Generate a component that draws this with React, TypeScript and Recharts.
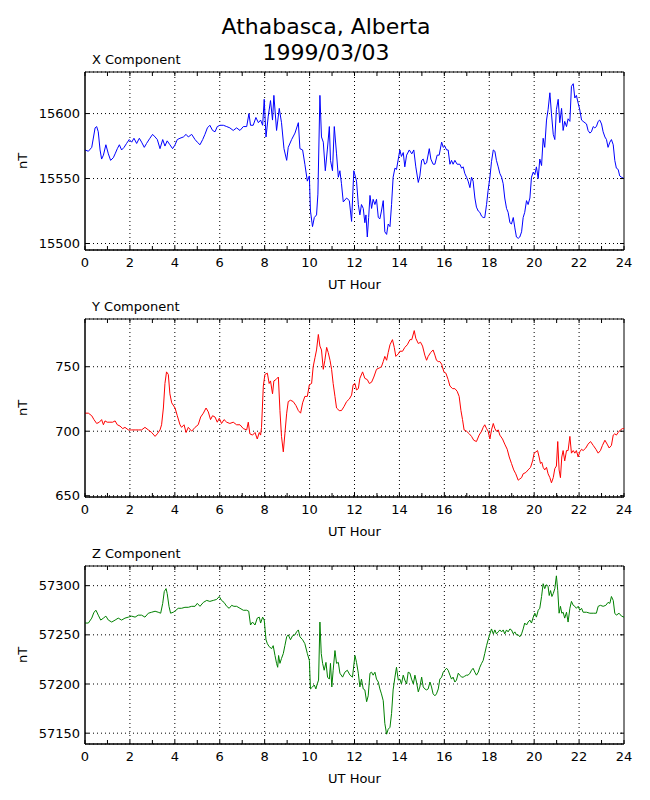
import React from "react";
import {
  LineChart,
  Line,
  XAxis,
  YAxis,
  CartesianGrid,
  ReferenceLine,
  ReferenceArea,
} from "recharts";

// [UT hour, nT]
const xComponent: [number, number][] = [
  [0, 15572], [0.15, 15571], [0.3, 15574], [0.45, 15589], [0.52, 15590], [0.59, 15586], [0.67, 15572], [0.74, 15565], [0.82, 15568], [0.93, 15576],
  [1.04, 15569], [1.14, 15564], [1.26, 15566], [1.34, 15569], [1.44, 15573], [1.53, 15576], [1.63, 15572], [1.74, 15574], [1.85, 15577], [1.97, 15580],
  [2.08, 15578], [2.18, 15581], [2.3, 15577], [2.42, 15581], [2.52, 15578], [2.64, 15574], [2.74, 15577], [2.89, 15581], [3.01, 15584], [3.12, 15582],
  [3.22, 15580], [3.34, 15573], [3.46, 15580], [3.56, 15575], [3.66, 15579], [3.78, 15576], [3.9, 15573], [4.01, 15576], [4.11, 15580], [4.23, 15581],
  [4.38, 15582], [4.5, 15584], [4.6, 15582], [4.75, 15584], [4.9, 15580], [5.0, 15578], [5.12, 15576], [5.24, 15580], [5.34, 15584], [5.45, 15589],
  [5.56, 15591], [5.68, 15587], [5.79, 15586], [5.89, 15590], [6.01, 15591], [6.16, 15591], [6.31, 15590], [6.45, 15589], [6.6, 15587], [6.75, 15589],
  [6.9, 15587], [7.05, 15590], [7.2, 15590], [7.3, 15600], [7.37, 15591], [7.49, 15591], [7.61, 15597], [7.72, 15593], [7.82, 15595], [7.91, 15591],
  [7.98, 15611], [8.06, 15582], [8.16, 15598], [8.26, 15610], [8.35, 15595], [8.41, 15614], [8.53, 15587], [8.65, 15604], [8.75, 15593], [8.86, 15573],
  [8.98, 15564], [9.05, 15574], [9.2, 15580], [9.35, 15585], [9.5, 15593], [9.57, 15573], [9.69, 15572], [9.79, 15561], [9.9, 15548], [9.99, 15552],
  [10.04, 15525], [10.13, 15513], [10.21, 15520], [10.31, 15522], [10.37, 15538], [10.46, 15614], [10.53, 15582], [10.61, 15578], [10.7, 15556], [10.79, 15572],
  [10.88, 15590], [10.93, 15564], [11.02, 15556], [11.1, 15590], [11.2, 15569], [11.28, 15551], [11.35, 15556], [11.42, 15546], [11.5, 15532], [11.65, 15535],
  [11.77, 15533], [11.87, 15517], [11.97, 15556], [12.09, 15548], [12.17, 15530], [12.24, 15522], [12.31, 15530], [12.39, 15527], [12.46, 15516], [12.51, 15522],
  [12.57, 15505], [12.63, 15520], [12.69, 15537], [12.76, 15527], [12.83, 15534], [12.91, 15530], [12.98, 15534], [13.06, 15520], [13.13, 15519], [13.2, 15525],
  [13.28, 15533], [13.35, 15509], [13.43, 15507], [13.5, 15515], [13.58, 15513], [13.65, 15530], [13.72, 15551], [13.8, 15558], [13.87, 15557], [13.95, 15565],
  [14.02, 15572], [14.09, 15567], [14.17, 15570], [14.24, 15559], [14.32, 15568], [14.44, 15572], [14.55, 15569], [14.64, 15572], [14.73, 15559], [14.84, 15547],
  [14.91, 15552], [14.99, 15564], [15.06, 15565], [15.13, 15561], [15.21, 15562], [15.33, 15573], [15.4, 15565], [15.5, 15561], [15.58, 15561], [15.68, 15568],
  [15.77, 15568], [15.88, 15578], [15.95, 15574], [16.02, 15575], [16.1, 15572], [16.17, 15572], [16.25, 15561], [16.32, 15564], [16.39, 15561], [16.47, 15564],
  [16.57, 15561], [16.69, 15561], [16.77, 15558], [16.84, 15559], [16.91, 15554], [16.99, 15551], [17.06, 15548], [17.14, 15543], [17.21, 15551], [17.28, 15548],
  [17.36, 15535], [17.43, 15528], [17.51, 15525], [17.58, 15524], [17.66, 15521], [17.73, 15520], [17.8, 15520], [17.88, 15530], [17.95, 15541], [18.03, 15551],
  [18.1, 15563], [18.18, 15572], [18.25, 15571], [18.32, 15564], [18.4, 15559], [18.47, 15554], [18.55, 15551], [18.62, 15546], [18.69, 15535], [18.77, 15527],
  [18.84, 15524], [18.92, 15516], [18.99, 15515], [19.07, 15520], [19.14, 15512], [19.21, 15505], [19.29, 15504], [19.36, 15505], [19.44, 15509], [19.51, 15520],
  [19.58, 15524], [19.66, 15533], [19.73, 15530], [19.81, 15535], [19.88, 15551], [19.96, 15555], [20.03, 15553], [20.1, 15559], [20.18, 15550], [20.25, 15565],
  [20.33, 15560], [20.4, 15581], [20.47, 15574], [20.55, 15595], [20.62, 15603], [20.7, 15616], [20.77, 15600], [20.85, 15584], [20.92, 15580], [20.99, 15603],
  [21.07, 15611], [21.14, 15593], [21.22, 15604], [21.29, 15587], [21.36, 15594], [21.44, 15590], [21.51, 15596], [21.59, 15594], [21.66, 15621], [21.74, 15623],
  [21.81, 15612], [21.88, 15614], [21.96, 15608], [22.03, 15603], [22.11, 15595], [22.18, 15594], [22.33, 15592], [22.4, 15587], [22.48, 15585], [22.55, 15586],
  [22.63, 15590], [22.7, 15589], [22.77, 15590], [22.85, 15594], [22.92, 15595], [23.0, 15592], [23.07, 15586], [23.15, 15582], [23.22, 15580], [23.29, 15574],
  [23.37, 15578], [23.44, 15580], [23.52, 15576], [23.59, 15564], [23.66, 15558], [23.74, 15557], [23.81, 15552], [23.89, 15551], [24, 15550],
];

const yComponent: [number, number][] = [
  [0, 714], [0.15, 714], [0.3, 712], [0.4, 709], [0.52, 706], [0.64, 707], [0.74, 709], [0.82, 705], [0.89, 708], [0.99, 707],
  [1.11, 707], [1.23, 707], [1.34, 708], [1.44, 705], [1.56, 704], [1.68, 702], [1.78, 703], [1.93, 701], [2.08, 701], [2.23, 701],
  [2.37, 701], [2.52, 701], [2.67, 703], [2.82, 701], [2.97, 699], [3.12, 696], [3.22, 698], [3.34, 701], [3.41, 705], [3.49, 718],
  [3.56, 737], [3.63, 746], [3.71, 744], [3.78, 729], [3.86, 722], [4.01, 718], [4.11, 712], [4.23, 705], [4.3, 703], [4.41, 705],
  [4.5, 699], [4.6, 703], [4.75, 700], [4.9, 703], [5.04, 705], [5.15, 711], [5.27, 714], [5.39, 718], [5.49, 715], [5.59, 709],
  [5.68, 712], [5.79, 711], [5.89, 707], [5.98, 710], [6.08, 706], [6.19, 709], [6.31, 707], [6.45, 706], [6.6, 707], [6.75, 705],
  [6.9, 705], [7.05, 702], [7.2, 701], [7.27, 707], [7.34, 698], [7.46, 697], [7.57, 699], [7.67, 694], [7.76, 699], [7.82, 697],
  [7.86, 703], [7.94, 735], [8.01, 744], [8.12, 745], [8.2, 737], [8.26, 739], [8.35, 729], [8.41, 739], [8.5, 740], [8.61, 742],
  [8.68, 716], [8.75, 696], [8.83, 684], [8.9, 698], [8.98, 714], [9.05, 723], [9.15, 724], [9.27, 723], [9.39, 720], [9.5, 716],
  [9.6, 714], [9.69, 722], [9.79, 727], [9.9, 727], [9.99, 736], [10.09, 737], [10.16, 750], [10.24, 757], [10.31, 763], [10.39, 775],
  [10.46, 766], [10.53, 763], [10.61, 748], [10.68, 755], [10.76, 765], [10.83, 761], [10.91, 755], [10.98, 748], [11.05, 737], [11.13, 727],
  [11.2, 718], [11.32, 716], [11.42, 716], [11.53, 719], [11.65, 723], [11.77, 725], [11.87, 728], [11.94, 736], [12.02, 737], [12.09, 732],
  [12.17, 733], [12.24, 741], [12.36, 746], [12.46, 741], [12.57, 740], [12.66, 737], [12.76, 738], [12.86, 742], [12.98, 748], [13.1, 749],
  [13.2, 750], [13.28, 754], [13.35, 758], [13.43, 755], [13.5, 761], [13.58, 767], [13.69, 771], [13.77, 765], [13.84, 758], [13.95, 760],
  [14.02, 762], [14.14, 762], [14.24, 765], [14.35, 767], [14.47, 771], [14.55, 771], [14.66, 778], [14.73, 772], [14.84, 768], [14.94, 769],
  [15.03, 766], [15.13, 759], [15.21, 755], [15.28, 758], [15.39, 761], [15.5, 763], [15.58, 759], [15.65, 755], [15.73, 754], [15.8, 754],
  [15.88, 752], [15.98, 746], [16.07, 745], [16.17, 740], [16.25, 735], [16.37, 733], [16.47, 733], [16.57, 731], [16.66, 727], [16.74, 716],
  [16.81, 709], [16.88, 701], [16.99, 700], [17.11, 698], [17.21, 696], [17.31, 693], [17.43, 692], [17.55, 697], [17.66, 700], [17.73, 703],
  [17.8, 705], [17.88, 702], [17.95, 700], [18.03, 694], [18.1, 701], [18.18, 706], [18.25, 702], [18.32, 700], [18.4, 701], [18.47, 697],
  [18.59, 694], [18.69, 690], [18.8, 686], [18.89, 680], [18.99, 675], [19.09, 670], [19.18, 667], [19.29, 662], [19.36, 663], [19.44, 664],
  [19.51, 667], [19.63, 668], [19.73, 670], [19.84, 672], [19.93, 677], [20.0, 683], [20.08, 684], [20.15, 685], [20.22, 680], [20.28, 675],
  [20.34, 676], [20.4, 672], [20.47, 670], [20.55, 672], [20.62, 667], [20.7, 664], [20.77, 660], [20.85, 664], [20.92, 671], [20.99, 673],
  [21.05, 692], [21.11, 670], [21.17, 664], [21.23, 680], [21.29, 685], [21.36, 677], [21.44, 685], [21.51, 685], [21.59, 696], [21.66, 683],
  [21.74, 685], [21.81, 683], [21.88, 685], [21.96, 680], [22.03, 684], [22.11, 686], [22.18, 685], [22.3, 687], [22.4, 690], [22.51, 692],
  [22.63, 689], [22.75, 686], [22.85, 683], [22.95, 685], [23.04, 689], [23.15, 693], [23.25, 690], [23.34, 687], [23.44, 689], [23.52, 697],
  [23.59, 698], [23.66, 697], [23.74, 699], [23.84, 701], [23.93, 702], [24, 702],
];

const zComponent: [number, number][] = [
  [0, 57262], [0.15, 57262], [0.3, 57267], [0.4, 57273], [0.49, 57275], [0.59, 57270], [0.7, 57265], [0.82, 57267], [0.93, 57269], [1.04, 57265],
  [1.19, 57263], [1.34, 57265], [1.48, 57267], [1.63, 57265], [1.78, 57267], [1.93, 57268], [2.08, 57269], [2.23, 57268], [2.37, 57270], [2.52, 57270],
  [2.67, 57268], [2.82, 57272], [2.97, 57273], [3.12, 57274], [3.26, 57273], [3.37, 57272], [3.46, 57282], [3.53, 57294], [3.61, 57297], [3.66, 57292],
  [3.74, 57279], [3.81, 57272], [3.93, 57273], [4.05, 57275], [4.15, 57277], [4.3, 57277], [4.45, 57278], [4.6, 57278], [4.75, 57279], [4.9, 57279],
  [5.0, 57282], [5.12, 57279], [5.27, 57283], [5.42, 57285], [5.56, 57284], [5.71, 57285], [5.86, 57286], [5.98, 57289], [6.08, 57285], [6.19, 57283],
  [6.31, 57279], [6.42, 57277], [6.53, 57280], [6.63, 57279], [6.75, 57279], [6.9, 57277], [7.05, 57275], [7.2, 57275], [7.29, 57274], [7.37, 57260],
  [7.46, 57263], [7.57, 57260], [7.67, 57267], [7.76, 57268], [7.82, 57262], [7.91, 57268], [7.98, 57265], [8.06, 57245], [8.12, 57241], [8.2, 57238],
  [8.31, 57236], [8.38, 57239], [8.46, 57229], [8.53, 57221], [8.58, 57217], [8.62, 57229], [8.68, 57221], [8.75, 57226], [8.83, 57231], [8.9, 57239],
  [8.98, 57248], [9.05, 57250], [9.15, 57245], [9.24, 57249], [9.35, 57250], [9.42, 57253], [9.5, 57255], [9.57, 57248], [9.69, 57245], [9.79, 57241],
  [9.9, 57231], [9.99, 57224], [10.04, 57195], [10.13, 57197], [10.21, 57199], [10.28, 57195], [10.34, 57200], [10.4, 57204], [10.46, 57263], [10.52, 57231],
  [10.58, 57221], [10.65, 57214], [10.73, 57222], [10.8, 57207], [10.88, 57205], [10.93, 57221], [10.99, 57197], [11.05, 57214], [11.13, 57234], [11.2, 57221],
  [11.28, 57222], [11.35, 57211], [11.47, 57207], [11.57, 57212], [11.68, 57214], [11.8, 57209], [11.91, 57207], [12.02, 57229], [12.09, 57222], [12.17, 57211],
  [12.24, 57197], [12.31, 57205], [12.39, 57195], [12.46, 57194], [12.54, 57182], [12.61, 57188], [12.69, 57211], [12.76, 57212], [12.83, 57209], [12.91, 57212],
  [12.98, 57205], [13.06, 57202], [13.13, 57195], [13.2, 57190], [13.28, 57183], [13.35, 57160], [13.43, 57149], [13.5, 57154], [13.58, 57156], [13.65, 57170],
  [13.72, 57194], [13.8, 57207], [13.87, 57217], [13.95, 57204], [14.02, 57205], [14.09, 57200], [14.17, 57209], [14.24, 57204], [14.32, 57200], [14.39, 57212],
  [14.47, 57211], [14.54, 57205], [14.62, 57200], [14.69, 57209], [14.76, 57202], [14.84, 57192], [14.91, 57197], [14.99, 57207], [15.06, 57197], [15.13, 57195],
  [15.21, 57194], [15.28, 57195], [15.36, 57202], [15.43, 57197], [15.5, 57190], [15.58, 57188], [15.65, 57190], [15.73, 57195], [15.8, 57205], [15.88, 57207],
  [15.95, 57212], [16.02, 57214], [16.1, 57216], [16.17, 57214], [16.25, 57209], [16.32, 57205], [16.39, 57207], [16.47, 57202], [16.54, 57204], [16.62, 57211],
  [16.69, 57209], [16.77, 57207], [16.84, 57207], [16.91, 57208], [16.99, 57209], [17.06, 57209], [17.14, 57211], [17.21, 57214], [17.28, 57216], [17.36, 57212],
  [17.43, 57209], [17.51, 57212], [17.58, 57217], [17.66, 57221], [17.73, 57224], [17.8, 57231], [17.88, 57239], [17.95, 57245], [18.03, 57251], [18.1, 57256],
  [18.18, 57251], [18.25, 57255], [18.32, 57251], [18.4, 57253], [18.47, 57255], [18.55, 57253], [18.62, 57255], [18.69, 57251], [18.77, 57255], [18.84, 57253],
  [18.92, 57256], [18.99, 57255], [19.07, 57251], [19.14, 57253], [19.21, 57250], [19.29, 57250], [19.36, 57248], [19.44, 57251], [19.51, 57256], [19.58, 57262],
  [19.66, 57260], [19.73, 57263], [19.81, 57265], [19.88, 57262], [19.96, 57268], [20.03, 57272], [20.1, 57268], [20.18, 57275], [20.25, 57277], [20.33, 57289],
  [20.4, 57302], [20.47, 57297], [20.55, 57301], [20.62, 57299], [20.67, 57290], [20.73, 57295], [20.79, 57289], [20.85, 57292], [20.92, 57297], [20.99, 57310],
  [21.05, 57295], [21.11, 57272], [21.17, 57279], [21.23, 57272], [21.29, 57273], [21.36, 57267], [21.44, 57273], [21.51, 57263], [21.59, 57277], [21.66, 57284],
  [21.74, 57280], [21.81, 57279], [21.88, 57277], [21.96, 57279], [22.03, 57275], [22.11, 57277], [22.18, 57273], [22.33, 57273], [22.48, 57272], [22.63, 57272],
  [22.77, 57272], [22.85, 57279], [22.95, 57280], [23.07, 57279], [23.19, 57280], [23.29, 57283], [23.37, 57282], [23.44, 57289], [23.52, 57285], [23.59, 57272],
  [23.66, 57270], [23.78, 57272], [23.89, 57269], [24, 57268],
];

const hourTicks = [0, 1, 2, 3, 4, 5, 6, 7, 8, 9, 10, 11, 12, 13, 14, 15, 16, 17, 18, 19, 20, 21, 22, 23, 24];
const gridHours = [2, 4, 6, 8, 10, 12, 14, 16, 18, 20, 22];
const xTicks = [15500, 15550, 15600];
const yTicks = [650, 700, 750];
const zTicks = [57150, 57200, 57250, 57300];

const FONT = "'DejaVu Sans', sans-serif";

const BottomTick = (props: any) => {
  const { x, y, payload } = props;
  return (
    <g>
      <line x1={x} x2={x} y1={y} y2={y - 4} stroke="#000" />
      {payload.value % 2 === 0 && (
        <text x={x} y={y + 17} textAnchor="middle" fontSize={13} fontFamily={FONT} fill="#000">
          {payload.value}
        </text>
      )}
    </g>
  );
};

const TopTick = (props: any) => (
  <line x1={props.x} x2={props.x} y1={props.y} y2={props.y + 4} stroke="#000" />
);

const LeftTick = (props: any) => {
  const { x, y, payload } = props;
  return (
    <g>
      <line x1={x} x2={x + 4} y1={y} y2={y} stroke="#000" />
      <text x={x - 5} y={y + 4.5} textAnchor="end" fontSize={13} fontFamily={FONT} fill="#000">
        {payload.value}
      </text>
    </g>
  );
};

const RightTick = (props: any) => (
  <line x1={props.x} x2={props.x - 4} y1={props.y} y2={props.y} stroke="#000" />
);

function Panel({ top, title, series, color, domain, ticks }: any) {
  const rows = series.map(([h, v]: [number, number]) => ({ h, v }));
  return (
    <div style={{ position: "absolute", left: 0, top, width: 650, height: 263 }}>
      <div style={{ position: "absolute", left: 92, top: 20, fontSize: 13, lineHeight: "16px", whiteSpace: "nowrap" }}>
        {title}
      </div>
      <LineChart width={650} height={263} data={rows} margin={{ top: 39, right: 25, bottom: 0, left: 17 }}>
        <CartesianGrid vertical={false} stroke="#000" strokeDasharray="1 3" />
        {gridHours.map((h) => (
          <ReferenceLine key={h} x={h} stroke="#000" strokeDasharray="1 3" />
        ))}
        <XAxis
          dataKey="h"
          type="number"
          domain={[0, 24]}
          ticks={hourTicks}
          interval={0}
          height={45}
          tickSize={0}
          tickMargin={0}
          tickLine={false}
          tick={BottomTick}
          axisLine={{ stroke: "#000" }}
          label={{ value: "UT Hour", position: "insideBottom", offset: 6, fontSize: 13, fill: "#000", fontFamily: FONT }}
        />
        <XAxis
          xAxisId="top"
          orientation="top"
          dataKey="h"
          type="number"
          domain={[0, 24]}
          ticks={hourTicks}
          interval={0}
          height={1}
          tickSize={0}
          tickMargin={0}
          tickLine={false}
          tick={TopTick}
          axisLine={false}
        />
        <YAxis
          type="number"
          domain={domain}
          ticks={ticks}
          interval={0}
          width={68}
          allowDataOverflow
          tickSize={0}
          tickMargin={0}
          tickLine={false}
          tick={LeftTick}
          axisLine={{ stroke: "#000" }}
          label={{ value: "nT", angle: -90, position: "insideLeft", offset: 5, fontSize: 13, fill: "#000", fontFamily: FONT, style: { textAnchor: "middle" } }}
        />
        <YAxis
          yAxisId="right"
          orientation="right"
          type="number"
          domain={domain}
          ticks={ticks}
          interval={0}
          width={1}
          allowDataOverflow
          tickSize={0}
          tickMargin={0}
          tickLine={false}
          tick={RightTick}
          axisLine={false}
        />
        <ReferenceArea
          x1={0}
          x2={24}
          y1={domain[0]}
          y2={domain[1]}
          fill="none"
          stroke="#000"
          strokeWidth={1}
          ifOverflow="visible"
        />
        <Line
          dataKey="v"
          type="linear"
          stroke={color}
          strokeWidth={1}
          dot={false}
          activeDot={false}
          isAnimationActive={false}
        />
      </LineChart>
    </div>
  );
}

export default function App() {
  return (
    <div style={{ position: "absolute", left: 0, top: 0, width: 650, height: 800, background: "#fff", fontFamily: FONT, color: "#000" }}>
      <div style={{ position: "absolute", left: 0, top: 14, width: 652, textAlign: "center", fontSize: 22, lineHeight: "26px" }}>
        <div>Athabasca, Alberta</div>
        <div>1999/03/03</div>
      </div>
      <Panel top={32} title="X Component" series={xComponent} color="#0000ff" domain={[15495, 15632]} ticks={xTicks} />
      <Panel top={279} title="Y Component" series={yComponent} color="#ff0000" domain={[649, 787]} ticks={yTicks} />
      <Panel top={526} title="Z Component" series={zComponent} color="#008000" domain={[57139, 57320]} ticks={zTicks} />
    </div>
  );
}
